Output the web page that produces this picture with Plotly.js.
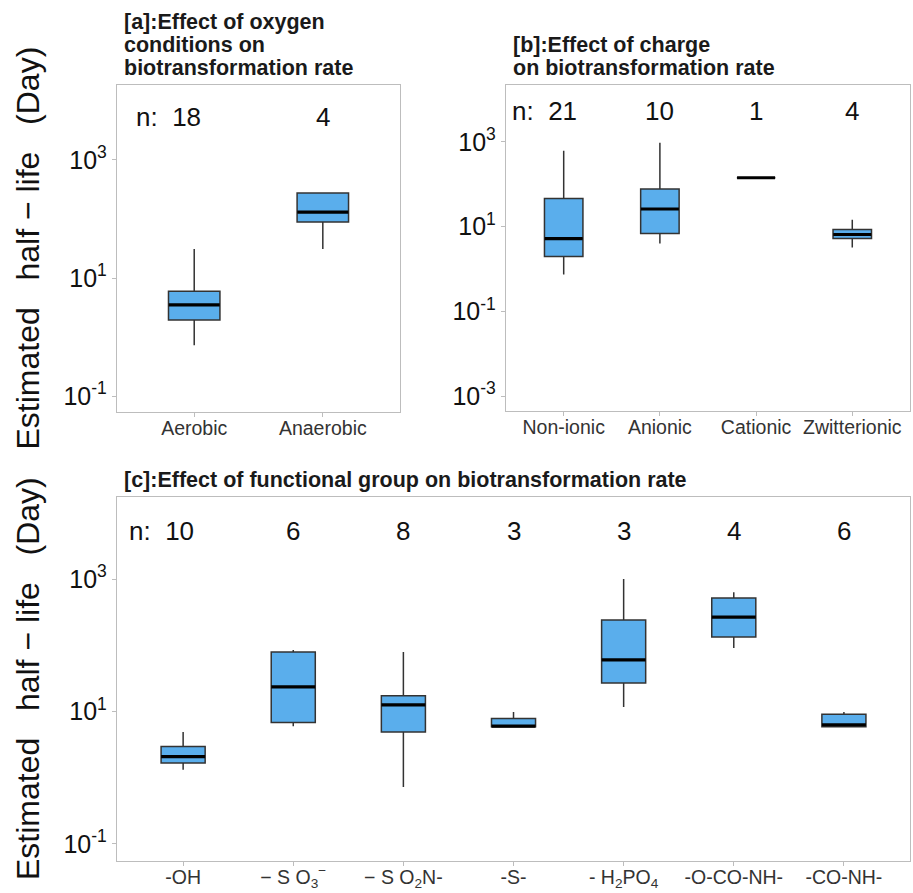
<!DOCTYPE html>
<html>
<head>
<meta charset="utf-8">
<script src="https://cdn.plot.ly/plotly-3.0.1.min.js"></script>
<style>html,body{margin:0;padding:0;background:#fff;}#chart{width:913px;height:893px;}</style>
</head>
<body>
<div id="chart"></div>
<script>
// ---- Panel a: oxygen conditions ----
const catA = ["Aerobic", "Anaerobic"];
const nA = ["18", "4"];
const lowA = [0.73, 31];
const q1A = [1.95, 89];
const medA = [3.5, 131];
const q3A = [6.0, 277];
const highA = [31, 277];

// ---- Panel b: charge ----
const catB = ["Non-ionic", "Anionic", "Cationic", "Zwitterionic"];
const nB = ["21", "10", "1", "4"];
const lowB = [0.74, 4.0, 142, 3.2];
const q1B = [1.96, 6.9, 142, 5.2];
const medB = [5.2, 26, 142, 6.5];
const q3B = [46, 77, 142, 8.5];
const highB = [615, 950, 142, 14.5];

// ---- Panel c: functional group ----
const catC = ["-OH", "− S O<sub>3</sub><sup>−</sup>", "− S O<sub>2</sub>N-", "-S-", "- H<sub>2</sub>PO<sub>4</sub>", "-O-CO-NH-", "-CO-NH-"];
const nC = ["10", "6", "8", "3", "3", "4", "6"];
const lowC = [1.32, 6.0, 0.72, 5.8, 11.7, 91, 5.9];
const q1C = [1.67, 6.8, 4.9, 5.9, 27, 133, 5.9];
const medC = [2.08, 23.5, 12.6, 6.0, 60, 267, 6.3];
const q3C = [2.95, 79, 17.2, 7.8, 240, 517, 9.1];
const highC = [4.9, 85, 79, 9.8, 1000, 635, 9.8];

const tickValsAC = [0.1, 10, 1000];
const tickTextAC = ["10<sup>-1</sup>", "10<sup>1</sup>", "10<sup>3</sup>"];
const tickValsB = [0.001, 0.1, 10, 1000];
const tickTextB = ["10<sup>-3</sup>", "10<sup>-1</sup>", "10<sup>1</sup>", "10<sup>3</sup>"];

const titleA = ["[a]:Effect of oxygen", "conditions on", "biotransformation rate"];
const titleB = ["[b]:Effect of charge", "on biotransformation rate"];
const titleC = ["[c]:Effect of functional group on biotransformation rate"];
const yTitle = "Estimated   half − life   (Day)";

const FILL = "#5aaeec";
const EDGE = "#333333";
const FONT = "Liberation Sans, Arial, sans-serif";

function boxTrace(cats, lo, q1, med, q3, hi, xa, ya) {
  return {
    type: "box", x: cats, q1: q1, median: med, q3: q3, lowerfence: lo, upperfence: hi,
    xaxis: xa, yaxis: ya, width: 0.4, whiskerwidth: 0, boxpoints: false,
    fillcolor: FILL, line: {color: EDGE, width: 1.5}, hoverinfo: "skip", showlegend: false
  };
}
function medTrace(cats, med, xa, ya, sizePx) {
  return {
    type: "scatter", mode: "markers", x: cats, y: med, xaxis: xa, yaxis: ya,
    marker: {symbol: "line-ew", size: sizePx / 1.4, line: {color: "#000", width: 3.2}},
    hoverinfo: "skip", showlegend: false
  };
}

const data = [
  boxTrace(catA, lowA, q1A, medA, q3A, highA, "x", "y"),
  medTrace(catA, medA, "x", "y", 51),
  boxTrace(catB, lowB, q1B, medB, q3B, highB, "x2", "y2"),
  medTrace(catB, medB, "x2", "y2", 38),
  boxTrace(catC, lowC, q1C, medC, q3C, highC, "x3", "y3"),
  medTrace(catC, medC, "x3", "y3", 44)
];

function xaxis(domain, anchor, cats) {
  return {
    domain: domain, anchor: anchor, type: "category", categoryorder: "array", categoryarray: cats,
    range: [-0.6, cats.length - 0.4], showline: true, mirror: true, linecolor: "#bdbdbd", linewidth: 1.2,
    ticks: "outside", ticklen: 4, tickcolor: "#bdbdbd", tickwidth: 1, showgrid: false, zeroline: false,
    ticklabelstandoff: -6,
    tickfont: {family: FONT, size: 19.5, color: "#333"}, fixedrange: true
  };
}
function yaxis(domain, anchor, range, tv, tt) {
  return {
    domain: domain, anchor: anchor, type: "log", range: range, tickvals: tv, ticktext: tt,
    showline: true, mirror: true, linecolor: "#bdbdbd", linewidth: 1.2,
    ticks: "outside", ticklen: 4, tickcolor: "#bdbdbd", tickwidth: 1, showgrid: false, zeroline: false,
    tickfont: {family: FONT, size: 25, color: "#111"}, fixedrange: true
  };
}

const annotations = [];
function nLabels(cats, ns, xr, yr, firstX) {
  ns.forEach((n, i) => {
    annotations.push({
      xref: xr, yref: yr, x: i === 0 ? firstX : i, y: 3.72,
      text: i === 0 ? "n:  " + n : n, showarrow: false, xanchor: "center", yanchor: "middle",
      font: {family: FONT, size: 26, color: "#111"}
    });
  });
}
nLabels(catA, nA, "x", "y", -0.2);
nLabels(catB, nB, "x2", "y2", -0.2);
nLabels(catC, nC, "x3", "y3", -0.2);

function title(lines, xr, yr) {
  const k = lines.length;
  lines.forEach((ln, i) => {
    annotations.push({
      xref: xr, yref: yr, x: 0, xshift: 5, y: 1, xanchor: "left", yanchor: "middle",
      yshift: 17 + (k - 1 - i) * 23, align: "left",
      text: "<b>" + ln + "</b>", showarrow: false, font: {family: FONT, size: 21.5, color: "#1a1a1a"}
    });
  });
}
title(titleA, "x domain", "y domain");
title(titleB, "x2 domain", "y2 domain");
title(titleC, "x3 domain", "y3 domain");

function yTitleAnn(yr) {
  annotations.push({
    xref: "paper", x: 28 / 913, yref: yr, y: 0.5, xanchor: "center", yanchor: "middle",
    textangle: -90, text: yTitle, showarrow: false, font: {family: FONT, size: 32, color: "#111"}
  });
}
yTitleAnn("y domain");
yTitleAnn("y3 domain");

const layout = {
  width: 913, height: 893, margin: {l: 0, r: 0, t: 0, b: 0},
  paper_bgcolor: "#fff", plot_bgcolor: "#fff", showlegend: false,
  xaxis: xaxis([0.1282, 0.4381], "y", catA),
  yaxis: yaxis([0.5386, 0.9048], "x", [-1.27, 4.27], tickValsAC, tickTextAC),
  xaxis2: xaxis([0.5542, 0.9967], "y2", catB),
  yaxis2: yaxis([0.5398, 0.9048], "x2", [-3.35, 4.34], tickValsB, tickTextB),
  xaxis3: xaxis([0.1282, 0.9967], "y3", catC),
  yaxis3: yaxis([0.0358, 0.4434], "x3", [-1.26, 4.24], tickValsAC, tickTextAC),
  annotations: annotations
};

Plotly.newPlot("chart", data, layout, {displayModeBar: false, staticPlot: true});
</script>
</body>
</html>
